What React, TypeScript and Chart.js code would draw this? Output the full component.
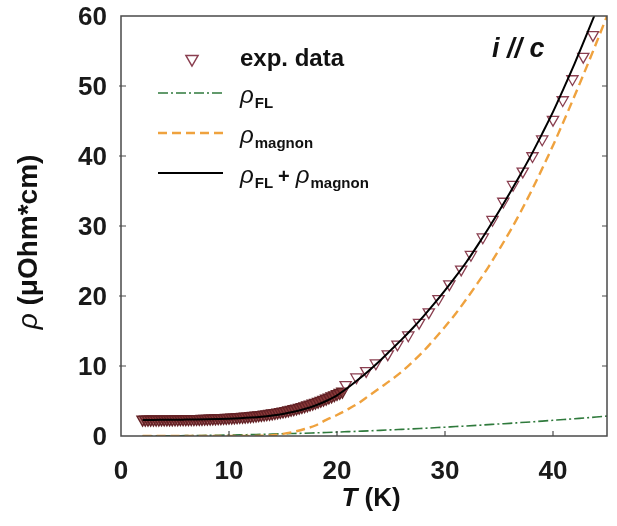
import React, { useEffect, useRef } from "react";
import { Chart, registerables } from "chart.js";

Chart.register(...registerables);

const FONT = '"Liberation Sans", Arial, Helvetica, sans-serif';

// Axis ticks
const xTicks = [0, 10, 20, 30, 40];
const yTicks = [0, 10, 20, 30, 40, 50, 60];

// Low-temperature sweep (dense measurement), T in K, rho in µOhm*cm
const tDense = [
  2.0, 2.25, 2.5, 2.75, 3.0, 3.25, 3.5, 3.75, 4.0, 4.25, 4.5, 4.75, 5.0, 5.25, 5.5, 5.75,
  6.0, 6.25, 6.5, 6.75, 7.0, 7.25, 7.5, 7.75, 8.0, 8.25, 8.5, 8.75, 9.0, 9.25, 9.5, 9.75,
  10.0, 10.25, 10.5, 10.75, 11.0, 11.25, 11.5, 11.75, 12.0, 12.25, 12.5, 12.75, 13.0, 13.25,
  13.5, 13.75, 14.0, 14.25, 14.5, 14.75, 15.0, 15.25, 15.5, 15.75, 16.0, 16.25, 16.5, 16.75,
  17.0, 17.25, 17.5, 17.75, 18.0, 18.25, 18.5, 18.75, 19.0, 19.25, 19.5, 19.75, 20.0, 20.25, 20.5,
];
const rhoDense = [
  2.35, 2.35, 2.35, 2.35, 2.36, 2.36, 2.36, 2.37, 2.37, 2.37, 2.38, 2.38, 2.39, 2.39, 2.4, 2.4,
  2.41, 2.42, 2.43, 2.43, 2.44, 2.45, 2.46, 2.47, 2.48, 2.5, 2.51, 2.53, 2.54, 2.56, 2.58, 2.6,
  2.62, 2.64, 2.66, 2.69, 2.72, 2.75, 2.78, 2.81, 2.85, 2.89, 2.93, 2.97, 3.02, 3.07,
  3.12, 3.18, 3.24, 3.3, 3.37, 3.44, 3.51, 3.59, 3.67, 3.76, 3.85, 3.95, 4.05, 4.16,
  4.27, 4.39, 4.51, 4.64, 4.77, 4.91, 5.05, 5.2, 5.35, 5.51, 5.67, 5.84, 6.01, 6.18, 6.35,
];

// Higher-temperature measurement points
const tSparse = [
  20.8, 21.8, 22.7, 23.6, 24.7, 25.6, 26.6, 27.6, 28.5, 29.4, 30.4, 31.5, 32.4,
  33.5, 34.4, 35.4, 36.3, 37.2, 38.1, 39.0, 40.0, 40.9, 41.8, 42.8, 43.7,
];
const rhoSparse = [
  7.3, 8.4, 9.3, 10.4, 11.7, 13.1, 14.4, 16.2, 17.7, 19.6, 21.7, 23.8, 25.9,
  28.4, 30.9, 33.5, 35.9, 37.8, 40.0, 42.4, 45.2, 48.0, 51.0, 54.2, 57.3,
];

// Model curves on a 1 K grid
const tFit = [
  2, 3, 4, 5, 6, 7, 8, 9, 10, 11, 12, 13, 14, 15, 16, 17, 18, 19, 20, 21, 22, 23,
  24, 25, 26, 27, 28, 29, 30, 31, 32, 33, 34, 35, 36, 37, 38, 39, 40, 41, 42, 43, 44, 45,
];
const rhoFL = [
  0.01, 0.01, 0.02, 0.04, 0.05, 0.07, 0.09, 0.11, 0.14, 0.17, 0.2, 0.24, 0.27, 0.32, 0.36, 0.4,
  0.45, 0.5, 0.56, 0.62, 0.68, 0.74, 0.81, 0.88, 0.95, 1.02, 1.1, 1.18, 1.26, 1.35, 1.43, 1.52,
  1.62, 1.72, 1.81, 1.92, 2.02, 2.13, 2.24, 2.35, 2.47, 2.59, 2.71, 2.84,
];
const rhoMagnon = [
  0, 0, 0, 0, 0, 0, 0, 0, 0, 0, 0, 0.03, 0.12, 0.3, 0.6, 1.0, 1.5, 2.3, 3.0, 3.8, 4.7, 5.8,
  6.9, 8.0, 9.2, 10.6, 12.1, 13.8, 15.6, 17.5, 19.6, 21.8, 24.1, 26.6, 29.2, 32.0, 35.0, 38.2,
  41.5, 45.0, 48.6, 52.3, 56.1, 60.0,
];
const rhoTotal = [
  2.3, 2.3, 2.31, 2.32, 2.34, 2.36, 2.39, 2.43, 2.48, 2.55, 2.64, 2.76, 2.93, 3.15, 3.45, 3.85,
  4.35, 5.0, 5.8, 6.9, 8.1, 9.4, 10.8, 12.3, 13.8, 15.4, 17.1, 18.9, 20.8, 22.8, 24.9, 27.2,
  29.6, 32.1, 34.7, 37.4, 40.2, 43.2, 46.3, 49.7, 53.2, 56.9, 60.7, 64.6,
];

const COL_DATA = "#8a3f50";
const COL_FL = "#2f7a3c";
const COL_MAG = "#efa23e";
const COL_TOT = "#000000";
const DASH_FL = [10, 3, 2, 3];
const DASH_MAG = [9, 5];

function pairs(xs: number[], ys: number[]) {
  return xs.map((x, i) => ({ x, y: ys[i] }));
}

function downTriangle(ctx: CanvasRenderingContext2D, x: number, y: number, r: number) {
  const w = r * Math.sin(Math.PI / 3);
  ctx.beginPath();
  ctx.moveTo(x, y + r);
  ctx.lineTo(x - w, y - r / 2);
  ctx.lineTo(x + w, y - r / 2);
  ctx.closePath();
}

const decorPlugin = {
  id: "decor",
  afterDraw(chart: any) {
    const ctx: CanvasRenderingContext2D = chart.ctx;
    const { left, right, top, bottom } = chart.chartArea;
    const xs = chart.scales.x;
    const ys = chart.scales.y;
    ctx.save();

    // frame
    ctx.strokeStyle = "#4a4a4a";
    ctx.lineWidth = 1.5;
    ctx.setLineDash([]);
    ctx.strokeRect(left, top, right - left, bottom - top);

    // inward tick marks
    ctx.lineWidth = 1.2;
    yTicks.forEach((v) => {
      if (v === 0 || v === 60) return;
      const py = ys.getPixelForValue(v);
      ctx.beginPath();
      ctx.moveTo(left - 2, py);
      ctx.lineTo(left + 5, py);
      ctx.moveTo(right - 5, py);
      ctx.lineTo(right, py);
      ctx.stroke();
    });
    xTicks.forEach((v) => {
      if (v === 0) return;
      const px = xs.getPixelForValue(v);
      ctx.beginPath();
      ctx.moveTo(px, bottom);
      ctx.lineTo(px, bottom - 5);
      ctx.stroke();
    });

    ctx.fillStyle = "#111";
    ctx.textBaseline = "alphabetic";

    // y-axis title
    ctx.save();
    ctx.translate(37, 242);
    ctx.rotate(-Math.PI / 2);
    const rhoFont = `italic 28px ${FONT}`;
    const unitFont = `bold 28px ${FONT}`;
    ctx.font = rhoFont;
    const w1 = ctx.measureText("\u03C1 ").width;
    ctx.font = unitFont;
    const w2 = ctx.measureText("(\u03BCOhm*cm)").width;
    const sx = -(w1 + w2) / 2;
    ctx.font = rhoFont;
    ctx.fillText("\u03C1 ", sx, 0);
    ctx.font = unitFont;
    ctx.fillText("(\u03BCOhm*cm)", sx + w1, 0);
    ctx.restore();

    // x-axis title
    {
      const tFont = `bold italic 26px ${FONT}`;
      const kFont = `bold 26px ${FONT}`;
      ctx.font = tFont;
      const a = ctx.measureText("T").width;
      ctx.font = kFont;
      const b = ctx.measureText(" (K)").width;
      const cx = (left + right) / 2 + 7;
      const x0 = cx - (a + b) / 2;
      ctx.font = tFont;
      ctx.fillText("T", x0, 506);
      ctx.font = kFont;
      ctx.fillText(" (K)", x0 + a, 506);
    }

    // orientation note
    ctx.font = `bold italic 27px ${FONT}`;
    ctx.textAlign = "left";
    ctx.fillText("i // c", 492, 57);

    // legend
    const lx0 = 158;
    const lx1 = 223;
    const tx = 240;
    ctx.strokeStyle = COL_DATA;
    ctx.lineWidth = 1.5;
    downTriangle(ctx, 192, 59, 7);
    ctx.stroke();
    ctx.fillStyle = "#111";
    ctx.font = `bold 24px ${FONT}`;
    ctx.fillText("exp. data", tx, 66);

    const drawSample = (y: number, color: string, dash: number[], width: number) => {
      ctx.strokeStyle = color;
      ctx.lineWidth = width;
      ctx.setLineDash(dash);
      ctx.beginPath();
      ctx.moveTo(lx0, y);
      ctx.lineTo(lx1, y);
      ctx.stroke();
      ctx.setLineDash([]);
    };
    drawSample(93, COL_FL, DASH_FL, 1.6);
    drawSample(133, COL_MAG, DASH_MAG, 2.4);
    drawSample(173, COL_TOT, [], 2);

    const rho = (x: number, base: number) => {
      ctx.font = `italic 24px ${FONT}`;
      ctx.fillText("\u03C1", x, base);
      return x + ctx.measureText("\u03C1").width + 1;
    };
    const sub = (x: number, base: number, s: string) => {
      ctx.font = `bold 15px ${FONT}`;
      ctx.fillText(s, x, base + 5);
      return x + ctx.measureText(s).width;
    };
    ctx.fillStyle = "#111";
    let px = rho(tx, 103);
    sub(px, 103, "FL");
    px = rho(tx, 143);
    sub(px, 143, "magnon");
    px = rho(tx, 183);
    px = sub(px, 183, "FL");
    ctx.font = `bold 20px ${FONT}`;
    ctx.fillText("+", px + 5, 183);
    px = px + 5 + ctx.measureText("+").width + 6;
    px = rho(px, 183);
    sub(px, 183, "magnon");

    ctx.restore();
  },
};

export default function App() {
  const ref = useRef<HTMLCanvasElement | null>(null);

  useEffect(() => {
    if (!ref.current) return;
    const tickFont = { family: FONT, size: 26, weight: "bold" as const };
    const noPad = (s: any) => {
      s.paddingTop = 0;
      s.paddingBottom = 0;
      s.paddingLeft = 0;
      s.paddingRight = 0;
    };
    const chart = new Chart(ref.current, {
      type: "scatter",
      data: {
        datasets: [
          {
            label: "\u03C1FL + \u03C1magnon",
            type: "line",
            data: pairs(tFit, rhoTotal),
            borderColor: COL_TOT,
            borderWidth: 2,
            pointRadius: 0,
            cubicInterpolationMode: "monotone",
            fill: false,
            order: 0,
            clip: 0,
          } as any,
          {
            label: "\u03C1magnon",
            type: "line",
            data: pairs(tFit, rhoMagnon),
            borderColor: COL_MAG,
            borderWidth: 2.4,
            borderDash: DASH_MAG,
            pointRadius: 0,
            cubicInterpolationMode: "monotone",
            fill: false,
            order: 1,
            clip: 0,
          } as any,
          {
            label: "\u03C1FL",
            type: "line",
            data: pairs(tFit, rhoFL),
            borderColor: COL_FL,
            borderWidth: 1.6,
            borderDash: DASH_FL,
            pointRadius: 0,
            cubicInterpolationMode: "monotone",
            fill: false,
            order: 2,
            clip: 0,
          } as any,
          {
            label: "exp. data",
            data: pairs(tSparse, rhoSparse),
            pointStyle: "triangle",
            rotation: 180,
            pointRadius: 6.5,
            borderWidth: 1.3,
            borderColor: COL_DATA,
            backgroundColor: "rgba(0,0,0,0)",
            order: 3,
            clip: 0,
          } as any,
          {
            label: "exp. data (low T)",
            data: pairs(tDense, rhoDense),
            pointStyle: "triangle",
            rotation: 180,
            pointRadius: 6.5,
            borderWidth: 1.4,
            borderColor: "#642226",
            backgroundColor: "rgba(140,58,58,0.7)",
            order: 4,
            clip: 0,
          } as any,
        ],
      },
      options: {
        responsive: false,
        animation: false,
        devicePixelRatio: 1,
        layout: { padding: { top: 16, right: 10, left: 0, bottom: 0 } },
        plugins: { legend: { display: false }, tooltip: { enabled: false } },
        scales: {
          x: {
            type: "linear",
            min: 0,
            max: 45,
            afterBuildTicks: (s: any) => {
              s.ticks = xTicks.map((v) => ({ value: v }));
            },
            afterFit: (s: any) => {
              s.height = 90;
              noPad(s);
            },
            grid: { display: false, drawTicks: false },
            border: { display: false },
            ticks: { font: tickFont, color: "#1a1a1a", padding: 20, maxRotation: 0, autoSkip: false },
          },
          y: {
            type: "linear",
            min: 0,
            max: 60,
            afterBuildTicks: (s: any) => {
              s.ticks = yTicks.map((v) => ({ value: v }));
            },
            afterFit: (s: any) => {
              s.width = 121;
              noPad(s);
            },
            grid: { display: false, drawTicks: false },
            border: { display: false },
            ticks: { font: tickFont, color: "#1a1a1a", padding: 14, labelOffset: 2, autoSkip: false },
          },
        },
      } as any,
      plugins: [decorPlugin],
    });
    return () => chart.destroy();
  }, []);

  return (
    <div style={{ position: "absolute", left: 0, top: 0, width: 617, height: 526, background: "#fff" }}>
      <canvas ref={ref} width={617} height={526} style={{ display: "block" }} />
    </div>
  );
}
